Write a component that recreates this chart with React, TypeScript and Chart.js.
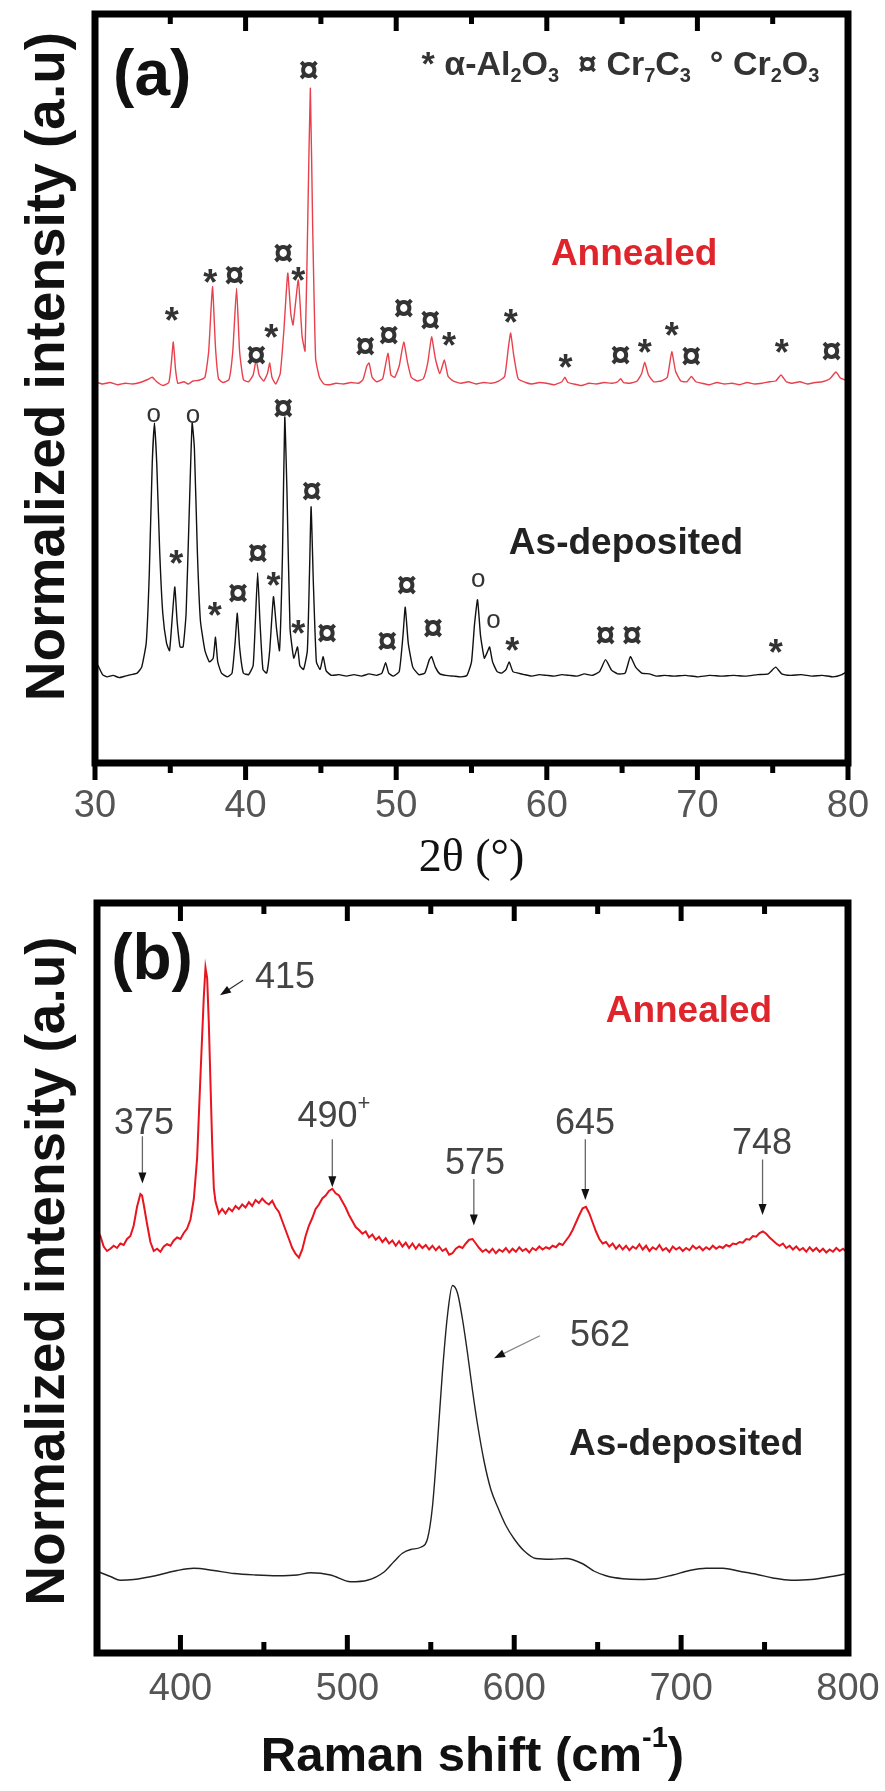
import React, { useEffect, useRef } from "react";
import { Chart, registerables } from "chart.js";

Chart.register(...registerables);

const SANS = "'Liberation Sans', Arial, Helvetica, sans-serif";
const SERIF = "'Liberation Serif', 'Times New Roman', serif";

// ================= Panel (a): XRD =================
const xrdMajorTicks = [30, 40, 50, 60, 70, 80];
const xrdTickLabels = ["30", "40", "50", "60", "70", "80"];
const xrdMinorTicks = [35, 45, 55, 65, 75];

// [2θ, normalized intensity]
const xrdAnnealed: [number, number][] = [
  [30.0, 50.9], [30.5, 50.6], [31.0, 50.8], [31.5, 50.5], [32.0, 50.7], [32.5, 50.6],
  [33.0, 50.8], [33.5, 51.2], [33.8, 51.5], [34.1, 50.9], [34.5, 50.4], [34.9, 50.8],
  [35.05, 53.0], [35.2, 56.2], [35.35, 52.5], [35.5, 50.7], [35.9, 50.9], [36.2, 50.6],
  [36.5, 51.0], [36.9, 51.1], [37.3, 51.5], [37.55, 55.0], [37.8, 63.6], [38.0, 55.5],
  [38.2, 51.3], [38.5, 50.8], [38.9, 51.2], [39.15, 55.0], [39.4, 63.4], [39.6, 55.0],
  [39.85, 51.2], [40.2, 50.9], [40.5, 51.8], [40.7, 53.8], [40.9, 51.8], [41.2, 51.0],
  [41.45, 52.0], [41.6, 53.4], [41.75, 51.5], [42.0, 50.6], [42.3, 52.0], [42.55, 58.0],
  [42.8, 65.4], [43.0, 60.0], [43.15, 58.5], [43.5, 64.5], [43.75, 57.0], [43.95, 55.0],
  [44.15, 75.0], [44.3, 90.1], [44.45, 72.0], [44.65, 54.0], [44.9, 51.5], [45.2, 50.6],
  [45.6, 50.5], [46.0, 50.7], [46.5, 50.6], [47.0, 50.8], [47.5, 50.7], [47.8, 51.2],
  [48.05, 53.0], [48.2, 53.4], [48.4, 51.5], [48.7, 50.9], [49.1, 51.3], [49.45, 54.7],
  [49.65, 51.8], [49.9, 51.5], [50.2, 53.0], [50.5, 56.2], [50.75, 53.5], [51.0, 51.5],
  [51.4, 51.0], [51.8, 51.3], [52.1, 53.5], [52.35, 56.9], [52.6, 54.0], [52.9, 52.0],
  [53.2, 53.8], [53.45, 51.6], [53.8, 51.0], [54.3, 50.7], [54.8, 50.9], [55.3, 50.6],
  [55.8, 50.8], [56.3, 50.7], [56.8, 51.0], [57.2, 51.6], [57.45, 55.5], [57.6, 57.4],
  [57.8, 54.5], [58.1, 51.3], [58.6, 50.8], [59.0, 50.6], [59.5, 50.8], [60.0, 50.7],
  [60.5, 50.5], [61.0, 50.9], [61.2, 51.5], [61.4, 50.8], [61.8, 50.6], [62.3, 50.4],
  [62.8, 50.7], [63.3, 50.6], [63.8, 50.8], [64.3, 50.7], [64.7, 50.9], [64.9, 51.3],
  [65.1, 50.8], [65.5, 50.7], [66.0, 51.0], [66.3, 52.0], [66.5, 53.5], [66.75, 51.8],
  [67.1, 50.9], [67.6, 51.0], [68.0, 51.5], [68.3, 54.9], [68.55, 52.3], [68.9, 51.0],
  [69.3, 50.9], [69.6, 51.6], [69.9, 50.9], [70.3, 50.7], [70.8, 50.5], [71.3, 50.8],
  [71.8, 50.6], [72.3, 50.7], [72.8, 50.5], [73.3, 50.8], [73.8, 50.6], [74.3, 50.7],
  [74.8, 50.9], [75.2, 51.0], [75.55, 51.8], [75.9, 50.9], [76.3, 50.7], [76.8, 50.9],
  [77.3, 50.6], [77.8, 50.8], [78.3, 50.9], [78.8, 51.3], [79.2, 52.2], [79.5, 51.4],
  [80.0, 51.0],
];

const xrdAsDeposited: [number, number][] = [
  [30.0, 13.6], [30.2, 13.0], [30.5, 11.8], [30.8, 11.5], [31.2, 11.7], [31.6, 11.4],
  [32.0, 11.6], [32.4, 11.8], [32.8, 12.0], [33.1, 12.8], [33.4, 16.0], [33.6, 25.0],
  [33.8, 40.0], [33.95, 45.4], [34.1, 40.0], [34.3, 28.0], [34.5, 20.0], [34.75, 16.0],
  [34.95, 15.0], [35.15, 20.0], [35.3, 23.5], [35.45, 19.0], [35.65, 15.5], [35.85, 15.5],
  [36.05, 20.0], [36.25, 33.0], [36.45, 45.4], [36.6, 42.0], [36.8, 28.0], [37.0, 19.0],
  [37.3, 15.0], [37.6, 13.5], [37.85, 14.0], [38.0, 16.8], [38.15, 13.5], [38.4, 12.0],
  [38.8, 11.5], [39.1, 12.0], [39.3, 16.0], [39.45, 20.0], [39.6, 15.5], [39.85, 12.0],
  [40.2, 11.8], [40.5, 13.0], [40.65, 19.0], [40.8, 25.4], [40.95, 19.0], [41.15, 12.5],
  [41.4, 12.0], [41.6, 15.0], [41.85, 22.2], [42.05, 18.0], [42.25, 15.0], [42.45, 28.0],
  [42.6, 46.2], [42.75, 36.0], [42.95, 18.0], [43.2, 14.0], [43.45, 15.5], [43.6, 13.0],
  [43.85, 12.5], [44.1, 15.0], [44.25, 26.0], [44.35, 34.2], [44.5, 24.0], [44.7, 13.5],
  [44.95, 12.5], [45.15, 14.2], [45.35, 12.3], [45.7, 11.7], [46.2, 11.8], [46.7, 11.6],
  [47.2, 11.8], [47.7, 11.6], [48.2, 11.9], [48.7, 11.7], [49.05, 12.0], [49.3, 13.4],
  [49.5, 12.0], [49.8, 11.6], [50.2, 12.2], [50.45, 17.0], [50.6, 20.8], [50.8, 16.0],
  [51.1, 12.8], [51.5, 11.8], [51.9, 12.0], [52.2, 13.8], [52.35, 14.2], [52.6, 12.8],
  [52.9, 11.9], [53.3, 11.7], [53.8, 11.6], [54.3, 11.5], [54.7, 11.7], [55.0, 13.5],
  [55.2, 18.5], [55.4, 21.8], [55.6, 17.0], [55.85, 14.0], [56.05, 14.8], [56.2, 15.5],
  [56.4, 13.5], [56.7, 12.2], [57.0, 12.0], [57.3, 12.5], [57.5, 13.5], [57.75, 12.2],
  [58.1, 12.0], [58.5, 11.8], [59.0, 11.6], [59.5, 11.8], [60.0, 11.7], [60.5, 11.6],
  [61.0, 11.8], [61.5, 11.7], [62.0, 11.6], [62.5, 11.9], [63.0, 11.7], [63.5, 12.2],
  [63.9, 13.8], [64.3, 12.4], [64.7, 11.9], [65.2, 12.0], [65.55, 14.2], [65.9, 12.8],
  [66.3, 12.0], [66.8, 11.9], [67.3, 11.6], [67.8, 11.7], [68.5, 11.6], [69.2, 11.7],
  [70.0, 11.5], [70.8, 11.7], [71.6, 11.6], [72.4, 11.7], [73.2, 11.6], [74.0, 11.8],
  [74.7, 11.9], [75.2, 12.8], [75.6, 11.9], [76.2, 11.7], [76.9, 11.8], [77.6, 11.6],
  [78.3, 11.7], [79.0, 11.5], [79.6, 11.8], [80.0, 12.3],
];

// phase markers: [2θ, height, symbol]   * α-Al2O3   ¤ Cr7C3   o Cr2O3
const annealedMarks: [number, number, string][] = [
  [35.1, 59.8, "*"], [37.65, 64.9, "*"], [39.26, 64.9, "¤"], [40.7, 54.2, "¤"],
  [41.7, 57.5, "*"], [42.5, 67.8, "¤"], [43.5, 65.2, "*"], [44.2, 92.3, "¤"],
  [47.95, 55.4, "¤"], [49.5, 56.9, "¤"], [50.5, 60.5, "¤"], [52.26, 58.9, "¤"],
  [53.5, 56.5, "*"], [57.6, 59.5, "*"], [61.25, 53.5, "*"], [64.9, 54.2, "¤"],
  [66.5, 55.5, "*"], [68.3, 57.8, "*"], [69.6, 54.1, "¤"], [75.6, 55.5, "*"],
  [78.9, 54.7, "¤"],
];
const asDepositedMarks: [number, number, string][] = [
  [33.9, 46.2, "o"], [36.5, 46.1, "o"], [42.5, 47.1, "¤"], [44.4, 36.0, "¤"],
  [35.4, 27.4, "*"], [37.95, 20.4, "*"], [39.5, 22.4, "¤"], [40.8, 27.8, "¤"],
  [41.85, 24.4, "*"], [43.5, 18.0, "*"], [45.4, 17.1, "¤"], [49.4, 16.0, "¤"],
  [50.7, 23.5, "¤"], [52.45, 17.8, "¤"], [55.45, 24.2, "o"], [56.46, 18.7, "o"],
  [57.7, 15.8, "*"], [63.9, 16.8, "¤"], [65.65, 16.8, "¤"], [75.2, 15.5, "*"],
];

// ================= Panel (b): Raman =================
const ramanMajorTicks = [400, 500, 600, 700, 800];
const ramanTickLabels = ["400", "500", "600", "700", "800"];
const ramanMinorTicks = [450, 550, 650, 750];

const ramanAnnealed: [number, number][] = [
  [350, 56.4], [352, 55.6], [354, 54.2], [356, 53.6], [358, 53.9], [360, 54.3], [362, 54.0],
  [364, 54.6], [366, 54.4], [368, 55.2], [370, 55.6], [372, 57.0], [374, 59.5], [376, 61.2],
  [377, 61.0], [378, 59.8], [380, 57.2], [382, 54.8], [384, 53.6], [386, 53.9], [388, 53.5],
  [390, 54.2], [392, 54.5], [394, 54.3], [396, 55.0], [398, 55.4], [400, 55.2], [402, 56.0],
  [404, 56.6], [406, 57.8], [408, 60.5], [410, 66.0], [412, 77.0], [414, 87.5], [415, 91.4],
  [416, 90.0], [417, 84.0], [418, 76.0], [419, 68.0], [420, 62.0], [421, 60.2], [423, 58.6],
  [425, 59.2], [427, 58.6], [429, 59.3], [431, 58.9], [433, 59.6], [435, 59.2], [437, 59.8],
  [439, 59.4], [441, 60.1], [443, 59.6], [445, 60.4], [447, 60.0], [449, 60.6], [451, 60.1],
  [453, 59.8], [455, 60.3], [457, 59.4], [459, 58.8], [461, 57.6], [463, 56.4], [465, 55.2],
  [467, 54.0], [469, 53.2], [471, 52.7], [473, 53.8], [475, 55.6], [477, 57.0], [479, 58.0],
  [481, 59.2], [483, 59.8], [485, 60.6], [487, 61.0], [489, 61.6], [491, 61.9], [493, 61.3],
  [495, 61.0], [497, 60.2], [499, 59.4], [501, 58.4], [503, 57.6], [505, 56.8], [507, 56.4],
  [509, 55.9], [511, 56.2], [513, 55.4], [515, 55.8], [517, 55.1], [519, 55.5], [521, 54.8],
  [523, 55.3], [525, 54.6], [527, 55.0], [529, 54.3], [531, 54.9], [533, 54.2], [535, 54.7],
  [537, 54.0], [539, 54.6], [541, 53.9], [543, 54.5], [545, 54.0], [547, 54.4], [549, 53.8],
  [551, 54.3], [553, 53.7], [555, 54.2], [557, 53.6], [559, 53.9], [561, 53.1], [563, 53.3],
  [565, 53.9], [567, 54.2], [569, 54.0], [571, 54.6], [573, 55.1], [575, 55.2], [577, 54.6],
  [579, 54.0], [581, 53.5], [583, 53.8], [585, 53.4], [587, 53.9], [589, 53.3], [591, 53.8],
  [593, 53.5], [595, 54.0], [597, 53.4], [599, 53.9], [601, 53.5], [603, 54.1], [605, 53.6],
  [607, 53.9], [609, 53.4], [611, 54.0], [613, 53.7], [615, 54.2], [617, 53.8], [619, 54.1],
  [621, 53.9], [623, 54.3], [625, 54.1], [627, 54.6], [629, 54.4], [631, 55.0], [633, 55.6],
  [635, 56.4], [637, 57.4], [639, 58.4], [641, 59.3], [643, 59.5], [645, 58.6], [647, 57.4],
  [649, 56.2], [651, 55.2], [653, 54.6], [655, 54.8], [657, 54.2], [659, 54.6], [661, 53.9],
  [663, 54.4], [665, 53.8], [667, 54.3], [669, 53.7], [671, 54.2], [673, 53.9], [675, 54.5],
  [677, 53.8], [679, 54.3], [681, 53.6], [683, 54.1], [685, 53.8], [687, 54.4], [689, 53.7],
  [691, 54.0], [693, 53.5], [695, 54.2], [697, 53.8], [699, 54.1], [701, 53.6], [703, 54.0],
  [705, 53.7], [707, 54.3], [709, 53.9], [711, 54.2], [713, 53.7], [715, 54.1], [717, 53.8],
  [719, 54.3], [721, 53.9], [723, 54.2], [725, 54.0], [727, 54.4], [729, 54.2], [731, 54.6],
  [733, 54.5], [735, 54.8], [737, 54.7], [739, 55.2], [741, 55.1], [743, 55.6], [745, 55.5],
  [747, 56.0], [749, 56.2], [751, 55.9], [753, 55.4], [755, 55.0], [757, 54.6], [759, 54.3],
  [761, 54.6], [763, 54.0], [765, 54.3], [767, 53.8], [769, 54.2], [771, 53.7], [773, 54.0],
  [775, 53.5], [777, 54.1], [779, 53.6], [781, 54.0], [783, 53.5], [785, 53.9], [787, 53.4],
  [789, 53.8], [791, 53.5], [793, 54.0], [795, 53.6], [797, 53.9], [799, 53.5], [800, 53.7],
];

const ramanAsDeposited: [number, number][] = [
  [350, 10.9], [358, 10.2], [364, 9.7], [372, 9.8], [385, 10.3], [398, 11.0], [408, 11.3],
  [420, 11.0], [432, 10.6], [445, 10.4], [458, 10.3], [470, 10.4], [478, 10.7], [490, 10.4],
  [502, 9.5], [512, 9.7], [522, 10.8], [528, 12.2], [533, 13.3], [538, 13.8], [544, 14.1],
  [548, 15.2], [551, 19.5], [554, 28.0], [557, 37.5], [560, 45.0], [563, 49.0], [566, 48.0],
  [569, 44.5], [572, 40.0], [575, 35.0], [578, 30.5], [582, 25.5], [586, 21.8], [590, 19.5],
  [595, 17.0], [600, 15.2], [606, 13.6], [613, 12.6], [622, 12.5], [631, 12.6], [641, 11.9],
  [648, 10.9], [655, 10.3], [665, 9.9], [675, 9.8], [685, 9.9], [695, 10.4], [705, 11.0],
  [715, 11.3], [725, 11.3], [735, 10.9], [745, 10.5], [755, 10.0], [766, 9.7], [778, 9.8],
  [790, 10.2], [800, 10.6],
];

// peak annotations: [label, labelX, labelY, arrowFromX, arrowFromY, arrowToX, arrowToY]
const ramanPeakNotes: [string, number, number, number, number, number, number][] = [
  ["375", 378.2, 70.5, 377.2, 68.9, 377.2, 62.6],
  ["490", 488.4, 71.5, 491.0, 68.5, 491.0, 62.1],
  ["575", 576.5, 65.2, 575.8, 63.2, 575.8, 57.0],
  ["645", 642.4, 70.5, 642.6, 68.5, 642.6, 60.4],
  ["748", 748.5, 67.8, 748.8, 65.8, 748.8, 58.4],
];

type Seg = { t: string; sub?: boolean; sup?: boolean };

function drawRich(
  ctx: CanvasRenderingContext2D,
  segs: Seg[],
  x: number,
  y: number,
  size: number,
  weight: string,
  color: string,
  align: "left" | "center" | "right",
  family: string = SANS
) {
  ctx.save();
  ctx.fillStyle = color;
  ctx.textBaseline = "middle";
  ctx.textAlign = "left";
  const small = Math.round(size * 0.6);
  const fonts = segs.map((s) => `${weight} ${s.sub || s.sup ? small : size}px ${family}`);
  const widths = segs.map((s, i) => {
    ctx.font = fonts[i];
    return ctx.measureText(s.t).width;
  });
  const total = widths.reduce((a, b) => a + b, 0);
  let cx = align === "center" ? x - total / 2 : align === "right" ? x - total : x;
  segs.forEach((s, i) => {
    ctx.font = fonts[i];
    const dy = s.sub ? size * 0.32 : s.sup ? -size * 0.36 : 0;
    ctx.fillText(s.t, cx, y + dy);
    cx += widths[i];
  });
  ctx.restore();
}

function drawFrame(
  chart: any,
  major: number[],
  minor: number[],
  labels: string[],
  bottomOut: boolean,
  labelOffset: number,
  majorLen: number,
  minorLen: number
) {
  const { ctx, chartArea: a } = chart;
  const xs = chart.scales.x;
  ctx.save();
  ctx.strokeStyle = "#000";
  ctx.lineWidth = 5;
  const tick = (v: number, len: number) => {
    const px = xs.getPixelForValue(v);
    ctx.beginPath();
    ctx.moveTo(px, a.top);
    ctx.lineTo(px, a.top + len);
    ctx.moveTo(px, a.bottom);
    ctx.lineTo(px, bottomOut ? a.bottom + len : a.bottom - len);
    ctx.stroke();
  };
  major.forEach((v) => tick(v, majorLen));
  minor.forEach((v) => tick(v, minorLen));
  ctx.lineWidth = 7;
  ctx.lineJoin = "miter";
  ctx.strokeRect(a.left, a.top, a.right - a.left, a.bottom - a.top);
  ctx.fillStyle = "#555";
  ctx.font = `38px ${SANS}`;
  ctx.textAlign = "center";
  ctx.textBaseline = "middle";
  major.forEach((v, i) => {
    if (labels[i]) ctx.fillText(labels[i], xs.getPixelForValue(v), a.bottom + labelOffset);
  });
  ctx.restore();
}

function drawYTitle(ctx: CanvasRenderingContext2D, x: number, cy: number) {
  ctx.save();
  ctx.translate(x, cy);
  ctx.rotate(-Math.PI / 2);
  ctx.font = `bold 55px ${SANS}`;
  ctx.fillStyle = "#111";
  ctx.textAlign = "center";
  ctx.textBaseline = "alphabetic";
  ctx.fillText("Normalized intensity (a.u)", 0, 0);
  ctx.restore();
}

function drawMarks(chart: any, marks: [number, number, string][]) {
  const { ctx } = chart;
  const xs = chart.scales.x;
  const ys = chart.scales.y;
  ctx.save();
  ctx.fillStyle = "#333";
  ctx.textAlign = "center";
  ctx.textBaseline = "middle";
  marks.forEach(([x, y, s]) => {
    const px = xs.getPixelForValue(x);
    const py = ys.getPixelForValue(y);
    if (s === "*") {
      ctx.font = `bold 36px ${SANS}`;
      ctx.fillText("*", px, py + 8);
    } else if (s === "¤") {
      ctx.font = `bold 36px ${SANS}`;
      ctx.fillText("¤", px, py);
    } else {
      ctx.font = `26px ${SANS}`;
      ctx.fillText("o", px, py - 2);
    }
  });
  ctx.restore();
}

function drawArrow(ctx: CanvasRenderingContext2D, x1: number, y1: number, x2: number, y2: number, color: string) {
  const ang = Math.atan2(y2 - y1, x2 - x1);
  const L = 11;
  const W = 4;
  const c = Math.cos(ang);
  const s = Math.sin(ang);
  ctx.save();
  ctx.strokeStyle = color;
  ctx.lineWidth = 1.3;
  ctx.beginPath();
  ctx.moveTo(x1, y1);
  ctx.lineTo(x2 - c * L * 0.8, y2 - s * L * 0.8);
  ctx.stroke();
  ctx.fillStyle = "#111";
  ctx.beginPath();
  ctx.moveTo(x2, y2);
  ctx.lineTo(x2 - L * c - W * s, y2 - L * s + W * c);
  ctx.lineTo(x2 - L * c + W * s, y2 - L * s - W * c);
  ctx.closePath();
  ctx.fill();
  ctx.restore();
}

const toPts = (arr: [number, number][]) => arr.map(([x, y]) => ({ x, y }));

export default function App() {
  const refA = useRef<HTMLCanvasElement>(null);
  const refB = useRef<HTMLCanvasElement>(null);

  useEffect(() => {
    const decorA = {
      id: "decorA",
      afterDatasetsDraw(chart: any) {
        const { ctx, chartArea: a } = chart;
        const xs = chart.scales.x;
        const ys = chart.scales.y;
        drawMarks(chart, annealedMarks);
        drawMarks(chart, asDepositedMarks);
        drawFrame(chart, xrdMajorTicks, xrdMinorTicks, xrdTickLabels, true, 44, 17, 10);
        // panel letter
        ctx.save();
        ctx.fillStyle = "#111";
        ctx.font = `bold 64px ${SANS}`;
        ctx.textAlign = "center";
        ctx.textBaseline = "middle";
        ctx.fillText("(a)", xs.getPixelForValue(33.8), ys.getPixelForValue(91.6));
        ctx.restore();
        // phase legend
        drawRich(
          ctx,
          [
            { t: "* " },
            { t: "α-Al" }, { t: "2", sub: true }, { t: "O" }, { t: "3", sub: true },
            { t: "  ¤ " },
            { t: "Cr" }, { t: "7", sub: true }, { t: "C" }, { t: "3", sub: true },
            { t: "  ° " },
            { t: "Cr" }, { t: "2", sub: true }, { t: "O" }, { t: "3", sub: true },
          ],
          xs.getPixelForValue(78.1),
          ys.getPixelForValue(93.1),
          34,
          "bold",
          "#333",
          "right"
        );
        drawRich(ctx, [{ t: "Annealed" }], xs.getPixelForValue(65.8), ys.getPixelForValue(67.8), 37, "bold", "#e0242c", "center");
        drawRich(ctx, [{ t: "As-deposited" }], xs.getPixelForValue(65.26), ys.getPixelForValue(29.3), 37, "bold", "#222", "center");
        // axis titles
        drawRich(ctx, [{ t: "2θ (°)" }], (a.left + a.right) / 2, a.bottom + 96, 46, "normal", "#111", "center", SERIF);
        drawYTitle(ctx, 64, (a.top + a.bottom) / 2 - 22);
      },
    };

    const decorB = {
      id: "decorB",
      afterDatasetsDraw(chart: any) {
        const { ctx, chartArea: a } = chart;
        const xs = chart.scales.x;
        const ys = chart.scales.y;
        drawFrame(chart, ramanMajorTicks, ramanMinorTicks, ramanTickLabels, false, 37, 18, 11);
        ctx.save();
        ctx.fillStyle = "#111";
        ctx.font = `bold 64px ${SANS}`;
        ctx.textAlign = "center";
        ctx.textBaseline = "middle";
        ctx.fillText("(b)", xs.getPixelForValue(383), ys.getPixelForValue(92.2));
        ctx.restore();
        ramanPeakNotes.forEach(([lab, lx, ly, ax1, ay1, ax2, ay2]) => {
          const segs: Seg[] = lab === "490" ? [{ t: "490" }, { t: "+", sup: true }] : [{ t: lab }];
          const px = xs.getPixelForValue(lx);
          drawRich(ctx, segs, lab === "490" ? px + 6 : px, ys.getPixelForValue(ly), 36, "normal", "#444", "center");
          drawArrow(ctx, xs.getPixelForValue(ax1), ys.getPixelForValue(ay1), xs.getPixelForValue(ax2), ys.getPixelForValue(ay2), "#666");
        });
        // 415 label with short arrow
        drawRich(ctx, [{ t: "415" }], xs.getPixelForValue(444.7), ys.getPixelForValue(90.0), 36, "normal", "#444", "left");
        drawArrow(ctx, xs.getPixelForValue(437.5), ys.getPixelForValue(89.7), xs.getPixelForValue(423.7), ys.getPixelForValue(87.7), "#333");
        // 562 label
        drawRich(ctx, [{ t: "562" }], xs.getPixelForValue(651.4), ys.getPixelForValue(42.3), 36, "normal", "#444", "center");
        drawArrow(ctx, xs.getPixelForValue(615.4), ys.getPixelForValue(42.3), xs.getPixelForValue(587.9), ys.getPixelForValue(39.3), "#888");
        drawRich(ctx, [{ t: "Annealed" }], xs.getPixelForValue(704.7), ys.getPixelForValue(85.5), 37, "bold", "#e0242c", "center");
        drawRich(ctx, [{ t: "As-deposited" }], xs.getPixelForValue(703), ys.getPixelForValue(27.8), 37, "bold", "#222", "center");
        drawRich(
          ctx,
          [{ t: "Raman shift (cm" }, { t: "-1", sup: true }, { t: ")" }],
          (a.left + a.right) / 2,
          a.bottom + 104,
          49,
          "bold",
          "#111",
          "center"
        );
        drawYTitle(ctx, 64, (a.top + a.bottom) / 2 - 7);
      },
    };

    const chartA = new Chart(refA.current as HTMLCanvasElement, {
      type: "line",
      data: {
        datasets: [
          {
            data: toPts(xrdAnnealed),
            borderColor: "#e8404c",
            borderWidth: 1.4,
            pointRadius: 0,
            tension: 0.15,
          },
          {
            data: toPts(xrdAsDeposited),
            borderColor: "#111",
            borderWidth: 1.4,
            pointRadius: 0,
            tension: 0.15,
          },
        ],
      },
      options: {
        animation: false,
        responsive: false,
        maintainAspectRatio: false,
        layout: { padding: { left: 95, right: 37, top: 14, bottom: 127 } },
        scales: {
          x: { type: "linear", min: 30, max: 80, display: false },
          y: { type: "linear", min: 0, max: 100, display: false },
        },
        plugins: { legend: { display: false }, tooltip: { enabled: false } },
      },
      plugins: [decorA],
    });

    const chartB = new Chart(refB.current as HTMLCanvasElement, {
      type: "line",
      data: {
        datasets: [
          {
            data: toPts(ramanAnnealed),
            borderColor: "#e8141e",
            borderWidth: 2,
            pointRadius: 0,
            tension: 0,
          },
          {
            data: toPts(ramanAsDeposited),
            borderColor: "#222",
            borderWidth: 1.4,
            pointRadius: 0,
            cubicInterpolationMode: "monotone",
          },
        ],
      },
      options: {
        animation: false,
        responsive: false,
        maintainAspectRatio: false,
        layout: { padding: { left: 97, right: 37, top: 13, bottom: 138 } },
        scales: {
          x: { type: "linear", min: 350, max: 800, display: false },
          y: { type: "linear", min: 0, max: 100, display: false },
        },
        plugins: { legend: { display: false }, tooltip: { enabled: false } },
      },
      plugins: [decorB],
    });

    return () => {
      chartA.destroy();
      chartB.destroy();
    };
  }, []);

  return (
    <div style={{ position: "absolute", left: 0, top: 0, width: 885, height: 1791, background: "#fff" }}>
      <canvas
        ref={refA}
        width={885}
        height={890}
        style={{ position: "absolute", left: 0, top: 0, width: 885, height: 890 }}
      />
      <canvas
        ref={refB}
        width={885}
        height={901}
        style={{ position: "absolute", left: 0, top: 890, width: 885, height: 901 }}
      />
    </div>
  );
}
